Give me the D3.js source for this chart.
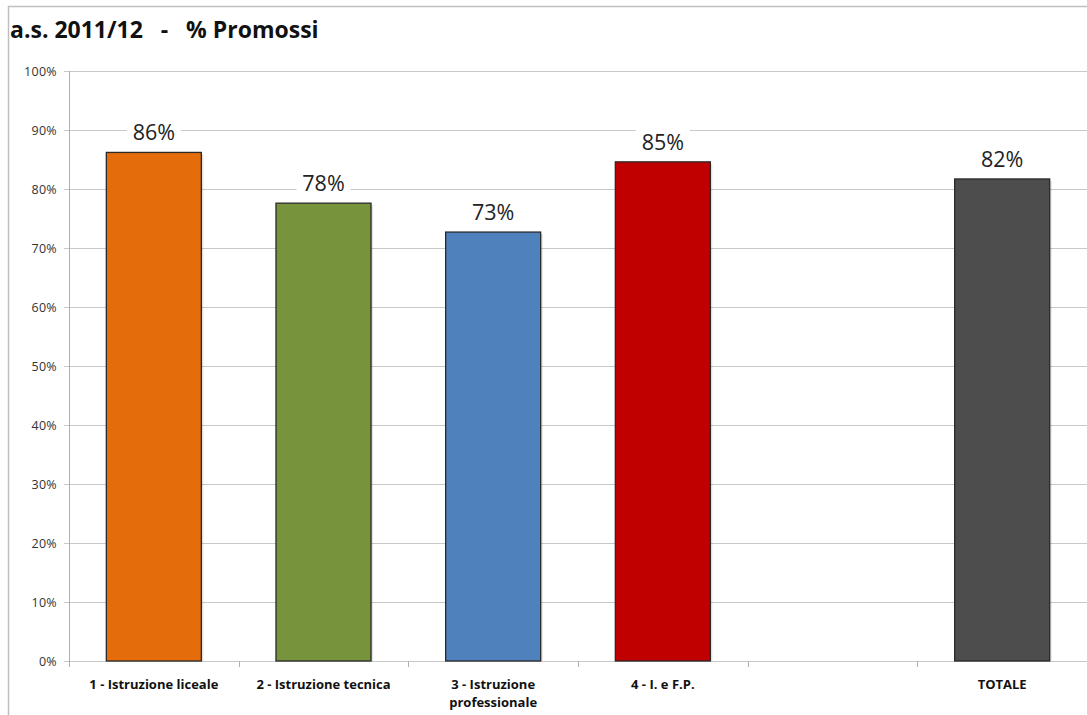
<!DOCTYPE html>
<html><head><meta charset="utf-8">
<script src="https://cdn.jsdelivr.net/npm/d3@7"></script>
<style>body{margin:0;background:#fff}svg{display:block}</style>
</head><body>
<svg id="c" width="1087" height="715"></svg>
<script>
const categories = ["1 - Istruzione liceale", "2 - Istruzione tecnica", "3 - Istruzione|professionale", "4 - I. e F.P.", "", "TOTALE"];
const values = [0.862, 0.776, 0.727, 0.846, null, 0.817];
const valueLabels = ["86%", "78%", "73%", "85%", "", "82%"];
const colors = ["#E46C0A", "#77933C", "#4F81BD", "#C00000", "#ffffff", "#4D4D4D"];
const yTicks = [0, 0.1, 0.2, 0.3, 0.4, 0.5, 0.6, 0.7, 0.8, 0.9, 1.0];

const svg = d3.select("#c");
const font = "'Open Sans', 'Liberation Sans', sans-serif";
const m = {left: 69, right: 1087, top: 71, bottom: 661};

// frame
svg.append("path").attr("d", "M8.5,715 V6.5 H1087").attr("fill", "none").attr("stroke", "#bfbfbf").attr("stroke-width", 1.5);

svg.append("text").attr("x", 10).attr("y", 38).attr("font-family", font).attr("font-weight", "bold")
  .attr("font-size", 23).attr("fill", "#111").attr("xml:space", "preserve").text("a.s. 2011/12   -   % Promossi");

const x = d3.scaleBand().domain(d3.range(categories.length)).range([m.left, m.right]).paddingInner(0.44).paddingOuter(0.22);
const y = d3.scaleLinear().domain([0, 1]).range([m.bottom, m.top]);

// gridlines
svg.append("g").selectAll("line").data(yTicks).join("line")
  .attr("x1", m.left - 5).attr("x2", m.right).attr("y1", d => Math.round(y(d)) + 0.5).attr("y2", d => Math.round(y(d)) + 0.5)
  .attr("stroke", "#c8c8c8").attr("stroke-width", 1);
// y axis line
svg.append("line").attr("x1", m.left + 0.5).attr("x2", m.left + 0.5).attr("y1", m.top).attr("y2", m.bottom + 0.5)
  .attr("stroke", "#b0b0b0");
// y tick labels
svg.append("g").selectAll("text").data(yTicks).join("text")
  .attr("x", 57).attr("y", d => y(d) + 4.5).attr("text-anchor", "end")
  .attr("font-family", font).attr("font-size", 12.5).attr("letter-spacing", 0.3).attr("fill", "#333")
  .text(d => d3.format(".0%")(d));

// x tick marks at category boundaries
const bounds = d3.range(categories.length + 1).map(i => m.left + i * (m.right - m.left) / categories.length);
svg.append("g").selectAll("line").data(bounds).join("line")
  .attr("x1", d => Math.round(d) + 0.5).attr("x2", d => Math.round(d) + 0.5).attr("y1", m.bottom).attr("y2", m.bottom + 6)
  .attr("stroke", "#b0b0b0");

const data = categories.map((c, i) => ({i, c, v: values[i], l: valueLabels[i], col: colors[i]})).filter(d => d.v != null);

// shadow
svg.append("g").selectAll("rect").data(data).join("rect")
  .attr("x", d => x(d.i) + 2).attr("y", d => y(d.v) + 2).attr("width", x.bandwidth()).attr("height", d => m.bottom - y(d.v) - 2)
  .attr("fill", "#000").attr("opacity", 0.12);
svg.append("g").selectAll("rect").data(data).join("rect")
  .attr("x", d => x(d.i)).attr("y", d => y(d.v)).attr("width", x.bandwidth()).attr("height", d => m.bottom - y(d.v))
  .attr("fill", d => d.col).attr("stroke", "#2a2a2a").attr("stroke-width", 1.3);

// value labels with white background
const vl = svg.append("g").selectAll("g").data(data).join("g");
vl.append("rect").attr("x", d => x(d.i) + x.bandwidth() / 2 - 27).attr("y", d => y(d.v) - 34).attr("width", 54).attr("height", 27).attr("fill", "#fff");
vl.append("text").attr("x", d => x(d.i) + x.bandwidth() / 2).attr("y", d => y(d.v) - 12)
  .attr("text-anchor", "middle").attr("font-family", font).attr("font-size", 21.5).attr("fill", "#222").text(d => d.l);

// x labels
svg.append("g").selectAll("text").data(categories.map((c, i) => ({c, i}))).join("text")
  .attr("text-anchor", "middle").attr("font-family", font).attr("font-weight", "bold").attr("font-size", 13).attr("fill", "#111")
  .each(function(d) {
    const lines = d.c.split("|");
    lines.forEach((t, k) => d3.select(this).append("tspan").attr("x", x(d.i) + x.bandwidth() / 2).attr("y", 689 + k * 18).text(t));
  });
</script>
</body></html>
